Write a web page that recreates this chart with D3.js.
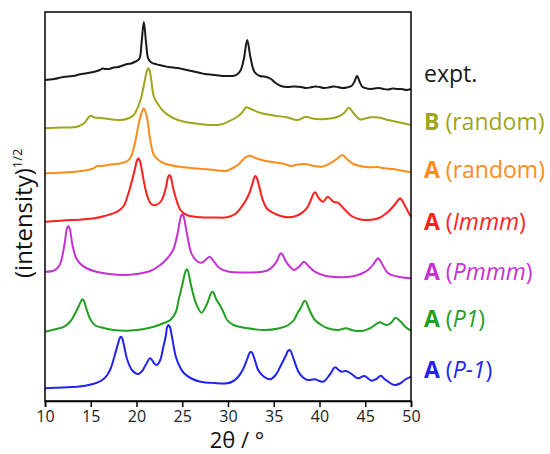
<!DOCTYPE html>
<html>
<head>
<meta charset="utf-8">
<script src="https://cdn.jsdelivr.net/npm/d3@7"></script>
<style>
  body { margin: 0; background: #fff; }
  text { font-family: "Open Sans", "DejaVu Sans", sans-serif; }
</style>
</head>
<body>
<div id="chart"></div>
<script>
// 2-theta / intensity pairs (curves already stacked)
var expt = [[10,321],[11,322],[12,324],[13,325],[14,327],[15,328.5],[15.5,329.5],[16,331],[16.3,332.5],[16.6,332],[17,332],[17.5,333.5],[18,334],[18.5,335.5],[19,337],[19.4,337.5],[19.8,339],[20.3,342],[20.55,358],[20.8,379],[21.05,358],[21.3,342],[21.7,338],[22.1,337],[22.5,336],[23,335],[23.5,334],[24,333.5],[24.5,333],[25,332],[25.5,331],[26,330],[26.5,329],[27,328],[27.5,327],[28,326.5],[28.5,326],[29,325.5],[29.5,325],[30,325],[30.5,325],[31,326.5],[31.4,331],[31.75,343],[32.1,361],[32.45,344],[32.9,329],[33.5,325],[34.2,324],[34.7,322],[35.2,318],[35.8,315],[36.5,314],[37.2,314.5],[38,314],[38.5,313],[39,313.5],[39.5,314.5],[40,314],[40.5,313],[41,313.5],[41.5,314.5],[42,314],[42.5,313],[43,313.5],[43.5,315],[43.8,319],[44.1,325],[44.4,319],[44.7,314],[45,313],[45.5,312],[46,312.5],[46.5,313],[47,312],[47.5,311.5],[48,312.5],[48.5,312],[49,312],[49.5,311],[50,312]];
var bRandom = [[10,272.7],[12,273.5],[13.5,274.3],[14.3,278],[14.7,283],[15,285.3],[15.4,283.5],[16.1,283],[17,282],[18.3,281],[19.2,283],[19.7,286],[20.2,295],[20.5,303],[20.9,320],[21.15,330.5],[21.3,332.7],[21.45,330],[21.6,322],[21.9,304.3],[22.4,296],[23,289.3],[24,283],[25.2,279.3],[26.5,277.5],[28.1,276],[29.2,276.5],[30,279.3],[30.8,283],[31.5,288],[32,293.7],[32.5,292],[33.6,288],[35,285.5],[36.5,283.5],[37.6,281],[38.5,284.3],[39.2,282.5],[40.2,281.7],[41.2,282.5],[42,284.3],[42.7,288],[43.2,293.3],[43.7,288],[44.4,281.7],[45,282.5],[45.6,283.7],[46.5,283.5],[47.5,281],[48.5,279],[50,276]];
var aRandom = [[10,227.7],[12,228.5],[14,230],[15.3,232.7],[15.7,235],[16.2,235],[17.2,236.5],[18.3,237.7],[19,240],[19.4,244.3],[19.9,261],[20.3,280],[20.65,290.5],[20.8,292.7],[20.95,290],[21.2,281],[21.5,261],[21.9,246],[22.4,241],[23,237.7],[24.5,234.5],[26.3,232.7],[28,231.5],[29.9,230.3],[30.5,233],[31.1,236],[31.7,242],[32.3,245.3],[33,243],[34,240.3],[35.2,238.5],[36.2,237],[36.9,235],[37.6,236.5],[38.4,237],[39.2,235.5],[40.2,234.3],[40.8,236],[41.3,238.3],[41.9,242],[42.5,246],[43.1,241],[43.7,237],[44.5,235],[45.3,233.7],[46.3,234],[47.1,232.7],[48,232],[48.6,231],[50,228.7]];
var aImmm = [[10,179.3],[12,180.5],[14,181.5],[15.4,182.7],[16.5,185],[17.9,189.3],[18.6,195],[19,204.3],[19.5,220],[19.9,235],[20.05,240.5],[20.2,242.7],[20.35,240.5],[20.5,235],[20.8,220],[21.2,204.3],[21.6,197],[22.1,196],[22.7,200],[23.2,213],[23.45,224],[23.6,226],[23.75,224],[24,213],[24.4,200],[24.8,191],[25.5,186],[27,183.7],[28.5,183.5],[29.9,183.7],[30.8,187],[31.5,194.3],[32.2,205],[32.6,215],[32.85,223],[33,225],[33.15,223],[33.4,215],[33.8,201],[34.3,192],[35.2,187],[36.6,183.7],[37.7,186],[38.6,192.7],[39.1,202],[39.35,207.5],[39.5,208.7],[39.65,207.5],[39.9,203],[40.4,199.3],[40.9,204.3],[41.5,199.3],[42,198.3],[42.6,193],[43.5,185],[44.5,181.5],[45.3,181],[46.5,183],[47.5,189.3],[48.2,196],[48.65,201.5],[48.8,202.7],[48.95,201.5],[49.3,196],[49.7,189],[50,184.3]];
var aPmmm = [[10,129.3],[11,130.5],[11.6,136],[12.1,155],[12.4,172.5],[12.55,175],[12.7,172.5],[13,156],[13.4,143],[13.8,137.7],[14.5,133],[15.5,129.5],[17,127],[18.6,126],[20,127],[21.5,130],[22.6,136],[23.4,143],[24,151],[24.5,168],[24.85,184.5],[25,187],[25.15,184.5],[25.5,168],[26,147.7],[26.6,140],[27.1,138.3],[27.6,141.5],[28,144.3],[28.5,139],[29.1,132.7],[30,129.5],[32,128.5],[33.5,129],[34.3,130.5],[34.9,134.5],[35.4,141],[35.65,146.5],[35.8,147.7],[35.95,146.5],[36.3,140],[36.8,134],[37.2,131],[37.8,134.5],[38.3,139.3],[38.8,135],[39.5,129.3],[40.5,125.5],[42.4,123.7],[43.5,124.5],[44.5,127],[45.3,131],[45.9,137],[46.25,141.5],[46.4,142.7],[46.55,141.5],[46.9,136],[47.5,127.7],[48.5,124.5],[50,122.7]];
var aP1 = [[10,69.3],[11,71.5],[12.1,74.3],[12.8,80],[13.2,86],[13.7,95],[13.95,100.3],[14.1,101.7],[14.25,100.3],[14.5,93],[15,81],[15.5,75.5],[16.1,73.7],[17.5,71],[19,70.3],[20.5,71.5],[21.9,74.3],[23,78],[23.7,81],[24.3,89],[24.6,101],[25,116],[25.35,129.5],[25.5,131.7],[25.65,129.5],[25.9,118],[26.5,97.7],[27.1,88.3],[27.7,97],[28.15,108],[28.3,109.3],[28.45,108],[28.7,102],[29.1,96],[29.5,89],[29.9,81],[30.6,76],[32.2,72.7],[34,71],[35.5,72.5],[36.6,76],[37.2,81],[37.6,88],[38,94],[38.25,99],[38.4,100.3],[38.55,99],[38.9,91],[39.5,81],[40.2,76],[40.9,72.7],[42,71],[42.9,72.7],[43.6,70.8],[44.6,70],[45.2,71.5],[45.7,73.7],[46.6,78.7],[47,77],[47.4,76],[47.9,79],[48.3,83.3],[48.8,80],[49.4,74],[50,70.3]];
var aPm1 = [[10,12.7],[12,13.5],[13.5,14.3],[14.8,16],[15.7,18.3],[16.4,22],[16.8,26],[17.2,33],[17.6,45],[18,58],[18.15,62.5],[18.3,64.3],[18.45,62.5],[18.6,57],[19,41],[19.5,31],[20.2,27],[20.7,31],[21,36],[21.5,42.7],[21.9,38],[22.2,36],[22.6,41],[22.9,52.7],[23.2,65],[23.35,74],[23.5,76],[23.65,74],[23.9,63],[24.3,44.3],[24.8,33],[25.2,27.7],[26,22.5],[27,19.3],[28.5,18],[29.9,17.7],[30.5,19.5],[31.1,24],[31.6,31],[32.1,42],[32.35,48],[32.5,49.3],[32.65,48],[32.9,42],[33.3,31],[33.9,24.5],[34.6,21.7],[35.2,26],[35.8,36],[36.3,45],[36.55,50],[36.7,51],[36.85,50],[37.1,44],[37.7,29.3],[38.2,23.5],[38.7,21],[39.5,21.7],[40.4,19.3],[41.1,26],[41.7,33.7],[42.1,31],[42.4,29.3],[42.9,30],[43.5,27],[44.2,22.7],[44.9,25],[45.7,20.3],[46.2,22],[46.7,25.3],[47.1,22],[47.5,19.3],[48.2,16],[48.8,17.5],[49.3,21],[50,24.3]];

var seriesList = [expt, bRandom, aRandom, aImmm, aPmmm, aP1, aPm1];
var seriesColors = ["#1a1a1a", "#9fa51c", "#ff8c1a", "#ff1f1f", "#c532d2", "#22a022", "#1f22f0"];
var labelBold = ["", "B", "A", "A", "A", "A", "A"];
var labelRest = ["expt.", "random", "random", "Immm", "Pmmm", "P1", "P-1"];
var labelItalic = [false, false, false, true, true, true, true];
var labelLevel = [319, 271, 223, 171, 121, 74, 23];
var xTicks = [10, 15, 20, 25, 30, 35, 40, 45, 50];

var width = 550, height = 454;
var margins = {top: 12, right: 139, bottom: 53, left: 45};

var svg = d3.select("#chart").append("svg")
    .attr("width", width)
    .attr("height", height);

var x = d3.scaleLinear()
    .domain([10, 50])
    .range([margins.left, width - margins.right]);

var y = d3.scaleLinear()
    .domain([0, 389])
    .range([height - margins.bottom, margins.top]);

var line = d3.line()
    .x(function(d) { return x(d[0]); })
    .y(function(d) { return y(d[1]); })
    .curve(d3.curveCatmullRom.alpha(0.5));

// curves
svg.append("g").selectAll("path")
    .data(seriesList)
    .enter().append("path")
    .attr("d", line)
    .attr("fill", "none")
    .attr("stroke", function(d, i) { return seriesColors[i]; })
    .attr("stroke-width", 2)
    .attr("stroke-linejoin", "round");

// frame
svg.append("rect")
    .attr("x", x(10)).attr("y", y(389))
    .attr("width", x(50) - x(10))
    .attr("height", y(0) - y(389))
    .attr("fill", "none")
    .attr("stroke", "#000")
    .attr("stroke-width", 1.5);

var xAxis = svg.append("g")
    .attr("transform", "translate(0," + y(0) + ")")
    .call(d3.axisBottom(x).tickValues(xTicks).tickSize(6).tickPadding(4).tickFormat(d3.format("d")));
xAxis.select(".domain").attr("stroke-width", 1.5);
xAxis.selectAll(".tick line").attr("stroke-width", 1.5);
xAxis.selectAll("text")
    .attr("font-size", "16px")
    .attr("fill", "#222")
    .style("font-family", "'Open Sans', sans-serif");

// axis titles
svg.append("text")
    .attr("x", 237).attr("y", 448)
    .attr("text-anchor", "middle")
    .attr("font-size", "22px")
    .attr("fill", "#111")
    .text("2θ / °");

var yTitle = svg.append("text")
    .attr("transform", "translate(32,278)rotate(-90)")
    .attr("text-anchor", "start")
    .attr("font-size", "24px")
    .attr("fill", "#111");
yTitle.append("tspan").text("(intensity)");
yTitle.append("tspan").attr("font-size", "13px").attr("dy", -10).text("1/2");

// labels on the right
var labels = svg.append("g").selectAll("text")
    .data(labelRest)
    .enter().append("text")
    .attr("x", 424)
    .attr("y", function(d, i) { return y(labelLevel[i]); })
    .attr("font-size", "23px")
    .attr("fill", function(d, i) { return seriesColors[i]; });

labels.each(function(d, i) {
    var t = d3.select(this);
    if (labelBold[i] === "") {
        t.append("tspan").text(d);
        return;
    }
    t.append("tspan").attr("font-weight", "bold").text(labelBold[i]);
    t.append("tspan").text(" (");
    t.append("tspan").attr("font-style", labelItalic[i] ? "italic" : "normal").text(d);
    t.append("tspan").text(")");
});
</script>
</body>
</html>
